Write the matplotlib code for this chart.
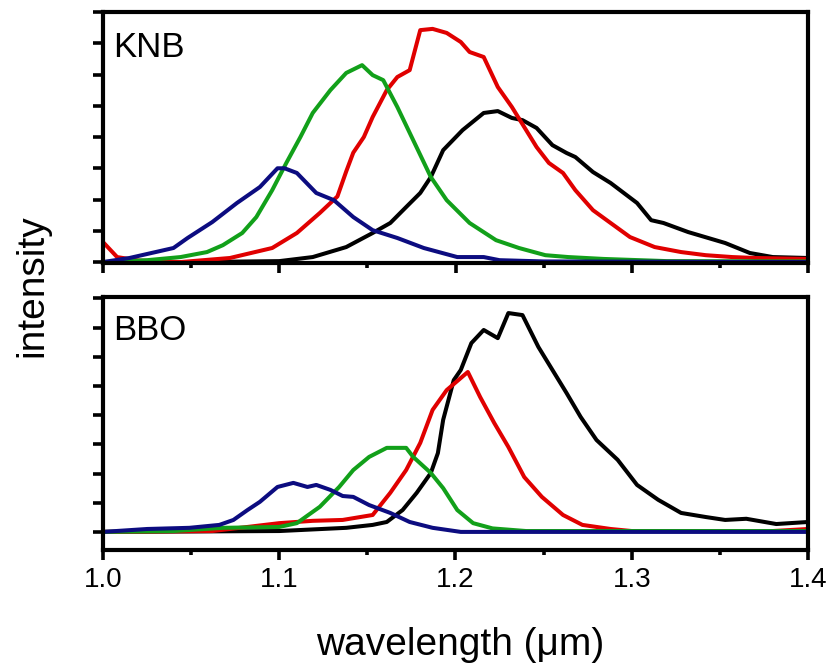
import matplotlib
matplotlib.use("Agg")
import matplotlib.pyplot as plt
from matplotlib.ticker import MultipleLocator, NullFormatter

plt.rcParams['font.family'] = ['Liberation Sans', 'DejaVu Sans']

# ---- KNB panel data ----
knb_black_x = [1.0, 1.05, 1.1, 1.119, 1.138, 1.153, 1.163, 1.172, 1.180, 1.186, 1.193, 1.204, 1.216, 1.224,
               1.232, 1.238, 1.246, 1.255, 1.263, 1.268, 1.278, 1.288, 1.303, 1.311, 1.318, 1.332, 1.353,
               1.367, 1.380, 1.4]
knb_black_y = [0, 0, 0.03, 0.16, 0.48, 0.93, 1.25, 1.76, 2.21, 2.72, 3.58, 4.22, 4.77, 4.83,
               4.61, 4.54, 4.29, 3.74, 3.49, 3.36, 2.88, 2.53, 1.89, 1.34, 1.25, 0.96, 0.61,
               0.29, 0.16, 0.13]

knb_red_x = [1.0, 1.008, 1.02, 1.044, 1.072, 1.096, 1.11, 1.123, 1.133, 1.138, 1.142, 1.148, 1.153, 1.161,
             1.167, 1.174, 1.180, 1.187, 1.195, 1.203, 1.208, 1.216, 1.224, 1.232, 1.239, 1.246, 1.253,
             1.261, 1.268, 1.278, 1.288, 1.299, 1.313, 1.328, 1.342, 1.357, 1.37, 1.4]
knb_red_y = [0.64, 0.16, 0.05, 0.0, 0.13, 0.45, 0.93, 1.57, 2.1, 2.9, 3.5, 4.0, 4.64, 5.5,
             5.92, 6.14, 7.42, 7.46, 7.33, 7.04, 6.72, 6.56, 5.6, 4.96, 4.32, 3.68, 3.17,
             2.85, 2.30, 1.66, 1.25, 0.8, 0.48, 0.32, 0.22, 0.16, 0.13, 0.1]

knb_green_x = [1.0, 1.025, 1.044, 1.059, 1.068, 1.079, 1.087, 1.096, 1.104, 1.112, 1.119, 1.129, 1.138,
               1.147, 1.153, 1.159, 1.167, 1.176, 1.186, 1.195, 1.208, 1.223, 1.236, 1.251, 1.264,
               1.284, 1.32, 1.4]
knb_green_y = [0, 0.06, 0.16, 0.32, 0.54, 0.93, 1.44, 2.3, 3.17, 4.0, 4.77, 5.5, 6.05,
               6.3, 5.98, 5.82, 4.96, 3.9, 2.72, 1.98, 1.25, 0.7, 0.45, 0.22, 0.16,
               0.1, 0.03, 0.02]

knb_blue_x = [1.0, 1.015, 1.04, 1.048, 1.062, 1.076, 1.089, 1.099, 1.103, 1.11, 1.121, 1.131, 1.142,
              1.153, 1.167, 1.182, 1.201, 1.216, 1.225, 1.25, 1.4]
knb_blue_y = [0, 0.13, 0.45, 0.77, 1.28, 1.89, 2.4, 3.0, 3.0, 2.85, 2.21, 1.98, 1.44,
              1.02, 0.77, 0.45, 0.16, 0.16, 0.06, 0.02, 0.0]

# ---- BBO panel data ----
bbo_black_x = [1.0, 1.1, 1.138, 1.153, 1.161, 1.17, 1.178, 1.186, 1.19, 1.193, 1.199, 1.203, 1.209, 1.216,
               1.224, 1.23, 1.238, 1.247, 1.255, 1.263, 1.271, 1.28, 1.292, 1.303, 1.315, 1.328, 1.342,
               1.353, 1.365, 1.382, 1.4]
bbo_black_y = [0, 0.03, 0.14, 0.24, 0.34, 0.75, 1.34, 2.02, 2.7, 3.84, 5.2, 5.55, 6.47, 6.92,
               6.64, 7.5, 7.43, 6.34, 5.55, 4.76, 3.94, 3.15, 2.47, 1.61, 1.1, 0.65, 0.51,
               0.41, 0.45, 0.27, 0.34]

bbo_red_x = [1.0, 1.062, 1.082, 1.1, 1.119, 1.136, 1.153, 1.163, 1.172, 1.18, 1.187, 1.195, 1.207, 1.214,
             1.222, 1.23, 1.239, 1.249, 1.261, 1.272, 1.288, 1.3, 1.38, 1.4]
bbo_red_y = [0, 0.03, 0.17, 0.3, 0.38, 0.41, 0.58, 1.34, 2.12, 3.05, 4.18, 4.86, 5.48, 4.62,
             3.73, 2.91, 1.88, 1.2, 0.58, 0.24, 0.1, 0.03, 0.03, 0.1]

bbo_green_x = [1.0, 1.04, 1.068, 1.1, 1.11, 1.123, 1.134, 1.142, 1.151, 1.161, 1.172, 1.176, 1.186,
               1.193, 1.201, 1.21, 1.221, 1.24, 1.4]
bbo_green_y = [0, 0.03, 0.14, 0.17, 0.3, 0.86, 1.54, 2.12, 2.57, 2.88, 2.88, 2.57, 2.02,
               1.5, 0.75, 0.3, 0.12, 0.03, 0.03]

bbo_blue_x = [1.0, 1.025, 1.049, 1.066, 1.074, 1.082, 1.089, 1.099, 1.108, 1.116, 1.121, 1.129, 1.136,
              1.142, 1.151, 1.163, 1.174, 1.187, 1.203, 1.4]
bbo_blue_y = [0, 0.1, 0.14, 0.24, 0.41, 0.75, 1.03, 1.54, 1.68, 1.54, 1.61, 1.44, 1.23,
              1.2, 0.92, 0.65, 0.34, 0.14, 0.0, 0.0]

xticks = [1.0, 1.1, 1.2, 1.3, 1.4]
xtick_labels = ["1.0", "1.1", "1.2", "1.3", "1.4"]

BLACK = '#000000'
RED = '#e00000'
GREEN = '#12a01a'
BLUE = '#0c0c80'
LW = 2.9

W, H = 827, 664
fig = plt.figure(figsize=(W / 100, H / 100), dpi=100)

ax1 = fig.add_axes([103 / W, 1 - 263 / H, 705 / W, (263 - 12) / H])
ax2 = fig.add_axes([103 / W, 1 - 550 / H, 705 / W, (550 - 297) / H])

panels = [
    (ax1, "KNB", [(knb_black_x, knb_black_y, BLACK), (knb_red_x, knb_red_y, RED),
                  (knb_green_x, knb_green_y, GREEN), (knb_blue_x, knb_blue_y, BLUE)], (-0.03, 8.0), 0.821),
    (ax2, "BBO", [(bbo_black_x, bbo_black_y, BLACK), (bbo_red_x, bbo_red_y, RED),
                  (bbo_green_x, bbo_green_y, GREEN), (bbo_blue_x, bbo_blue_y, BLUE)], (-0.62, 8.05), 0.83),
]

for ax, name, series, ylim, ty in panels:
    for xs, ys, c in series:
        ax.plot(xs, ys, color=c, lw=LW, solid_joinstyle='round', clip_on=True)
    ax.set_xlim(1.0, 1.4)
    ax.set_ylim(*ylim)
    for s in ax.spines.values():
        s.set_linewidth(3.0)
    ax.xaxis.set_major_locator(MultipleLocator(0.1))
    ax.xaxis.set_minor_locator(MultipleLocator(0.05))
    ax.yaxis.set_major_locator(MultipleLocator(1))
    ax.yaxis.set_major_formatter(NullFormatter())
    ax.tick_params(axis='x', which='major', direction='out', length=7, width=2.6, labelsize=20, pad=5)
    ax.tick_params(axis='x', which='minor', direction='out', length=3.5, width=2.6)
    ax.tick_params(axis='y', which='major', direction='out', length=7, width=2.6)
    ax.text(0.014, ty, name, transform=ax.transAxes, fontsize=25, ha='left', va='baseline')

ax1.xaxis.set_major_formatter(NullFormatter())
ax2.set_xticks(xticks)
ax2.set_xticklabels(xtick_labels)

fig.text(32 / W, 1 - 286 / H, "intensity", rotation=90, fontsize=28, ha='center', va='center')
fig.text(460 / W, 1 - 645 / H, "wavelength (\u03bcm)", fontsize=28, ha='center', va='center')

fig.savefig("out.png", dpi=100)
